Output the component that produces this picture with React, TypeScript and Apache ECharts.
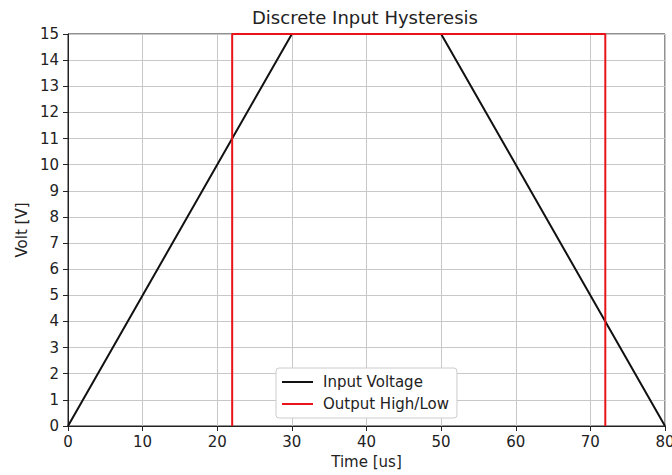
import React, { useEffect, useRef } from "react";
import * as echarts from "echarts";

const inputVoltage: [number, number][] = [[0, 0], [30, 15], [50, 15], [80, 0]];
const outputHighLow: [number, number][] = [[22, 0], [22, 15], [72, 15], [72, 0]];
const seriesNames = ["Input Voltage", "Output High/Low"];
const xTicks = { min: 0, max: 80, interval: 10 };
const yTicks = { min: 0, max: 15, interval: 1 };

export default function App() {
  const ref = useRef<HTMLDivElement>(null);
  useEffect(() => {
    if (!ref.current) return;
    const chart = echarts.init(ref.current, undefined, { renderer: "svg" });
    const font = "DejaVu Sans";
    chart.setOption({
      animation: false,
      backgroundColor: "#fff",
      textStyle: { fontFamily: font },
      title: {
        text: "Discrete Input Hysteresis",
        left: 247,
        top: 3,
        textStyle: { fontFamily: font, fontSize: 18, fontWeight: "normal", color: "#222" },
      },
      grid: {
        left: 68,
        right: 7,
        top: 34,
        bottom: 49,
        outerBoundsMode: "none",
        containLabel: false,
        show: true,
        borderColor: "#222",
        borderWidth: 1,
        backgroundColor: "transparent",
      },
      legend: {
        orient: "vertical",
        left: 276,
        top: 368,
        data: seriesNames,
        icon: "rect",
        backgroundColor: "#fff",
        borderColor: "#ccc",
        borderWidth: 1,
        borderRadius: 3,
        padding: [5, 8, 5, 6],
        itemGap: 4,
        itemWidth: 31,
        itemHeight: 2,
        textStyle: { fontFamily: font, fontSize: 15, color: "#222", lineHeight: 18, padding: [0, 0, 0, 5] },
      },
      xAxis: {
        type: "value",
        min: xTicks.min,
        max: xTicks.max,
        interval: xTicks.interval,
        name: "Time [us]",
        nameLocation: "middle",
        nameGap: 28,
        nameTextStyle: { fontFamily: font, fontSize: 15, color: "#222" },
        axisLine: { show: true, lineStyle: { color: "#222", width: 1 } },
        axisTick: { show: true, inside: false, length: 5, lineStyle: { color: "#222" } },
        axisLabel: { fontFamily: font, fontSize: 15, color: "#222", margin: 8, showMaxLabel: true },
        splitLine: { show: true, lineStyle: { color: "#c8c8c8", width: 1 } },
      },
      yAxis: {
        type: "value",
        min: yTicks.min,
        max: yTicks.max,
        interval: yTicks.interval,
        name: "Volt [V]",
        nameLocation: "middle",
        nameGap: 39,
        nameTextStyle: { fontFamily: font, fontSize: 15, color: "#222" },
        axisLine: { show: true, lineStyle: { color: "#222", width: 1 } },
        axisTick: { show: true, inside: false, length: 5, lineStyle: { color: "#222" } },
        axisLabel: { fontFamily: font, fontSize: 15, color: "#222", margin: 9 },
        splitLine: { show: true, lineStyle: { color: "#c8c8c8", width: 1 } },
      },
      series: [
        {
          name: seriesNames[0],
          type: "line",
          data: inputVoltage,
          symbol: "none",
          lineStyle: { color: "#111", width: 2 },
          itemStyle: { color: "#111" },
        },
        {
          name: seriesNames[1],
          type: "line",
          data: outputHighLow,
          symbol: "none",
          lineStyle: { color: "#e8141a", width: 2 },
          itemStyle: { color: "#e8141a" },
        },
      ],
    });
    return () => chart.dispose();
  }, []);
  return <div ref={ref} style={{ width: 672, height: 475, position: "absolute", left: 0, top: 0 }} />;
}
